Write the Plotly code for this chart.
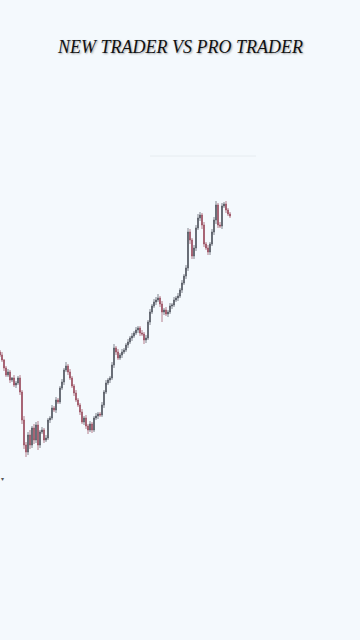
import plotly.graph_objects as go

title_text = "NEW TRADER VS PRO TRADER"

close = [285, 280, 272, 265, 268, 260, 262, 255, 257, 262,
         248, 220, 195, 188, 205, 195, 212, 200, 215, 195,
         208, 210, 200, 202, 220, 222, 232, 230, 240, 238,
         252, 258, 270, 274, 268, 262, 254, 247, 240, 235,
         228, 218, 222, 214, 210, 216, 210, 222, 224, 226,
         225, 235, 248, 257, 260, 262, 275, 292, 288, 282,
         285, 288, 290, 295, 298, 302, 304, 307, 310, 312,
         307, 306, 300, 302, 318, 328, 334, 338, 340, 342,
         336, 328, 330, 326, 328, 334, 335, 340, 342, 344,
         350, 357, 364, 372, 408, 400, 384, 392, 412, 422,
         425, 415, 396, 392, 388, 396, 408, 420, 435, 415,
         414, 434, 436, 430, 426, 424]

wick_up = [2, 3, 1, 2, 3, 2, 1, 3, 2, 2,
           3, 2, 4, 3, 3, 5, 2, 4, 3, 4,
           2, 3, 2, 3, 2, 2, 3, 2, 3, 2,
           2, 3, 2, 4, 2, 3, 2, 2, 3, 2,
           2, 3, 2, 3, 2, 3, 2, 2, 3, 2,
           2, 3, 2, 3, 2, 2, 3, 4, 2, 3,
           2, 3, 2, 2, 3, 2, 3, 2, 3, 2,
           2, 3, 2, 3, 2, 3, 2, 3, 3, 4,
           2, 3, 2, 3, 2, 3, 2, 3, 2, 3,
           2, 3, 2, 3, 4, 3, 2, 3, 3, 4,
           3, 2, 3, 2, 3, 2, 3, 3, 4, 2,
           3, 3, 2, 3, 2, 2]

wick_down = [2, 2, 3, 2, 2, 3, 2, 2, 3, 2,
             3, 4, 4, 5, 3, 4, 3, 4, 3, 5,
             3, 2, 3, 2, 2, 3, 2, 2, 3, 2,
             2, 2, 3, 2, 3, 2, 2, 3, 2, 2,
             3, 2, 3, 3, 4, 2, 3, 2, 2, 3,
             2, 2, 3, 2, 2, 3, 2, 3, 3, 2,
             2, 3, 2, 2, 3, 2, 3, 2, 2, 3,
             3, 2, 4, 3, 2, 3, 2, 2, 3, 2,
             3, 10, 3, 2, 3, 2, 3, 2, 2, 3,
             2, 3, 2, 3, 3, 4, 3, 3, 3, 2,
             3, 4, 3, 2, 3, 3, 2, 3, 4, 3,
             2, 3, 2, 3, 2, 2]

idx = list(range(len(close)))
opens = [close[0] + 3] + close[:-1]
high = [max(o, c) + w for o, c, w in zip(opens, close, wick_up)]
low = [min(o, c) - w for o, c, w in zip(opens, close, wick_down)]

fig = go.Figure()
fig.add_trace(go.Candlestick(
    x=idx, open=opens, high=high, low=low, close=close,
    increasing=dict(line=dict(color="#50555e", width=0.7), fillcolor="#50555e"),
    decreasing=dict(line=dict(color="#9a4a5c", width=0.7), fillcolor="#9a4a5c"),
    whiskerwidth=0, showlegend=False, hoverinfo="skip",
))

bg = "#f4f9fd"
fig.update_layout(
    width=360, height=640,
    margin=dict(l=0, r=0, t=0, b=0),
    paper_bgcolor=bg, plot_bgcolor=bg,
    xaxis=dict(range=[0, 180], visible=False, rangeslider=dict(visible=False), fixedrange=True),
    yaxis=dict(range=[0, 640], visible=False, fixedrange=True),
    showlegend=False,
    shapes=[dict(type="line", xref="paper", yref="paper",
                 x0=150/360, x1=256/360, y0=1-156/640, y1=1-156/640,
                 line=dict(color="#e6ecf0", width=1))],
    annotations=[
        dict(text=title_text, xref="paper", yref="paper", x=0.5, y=1-47/640,
             xanchor="center", yanchor="middle", showarrow=False,
             font=dict(family="Liberation Serif", size=18, color="#111111",
                       style="italic", shadow="1px 1px 2px rgba(0,0,0,0.35)")),
        dict(text="▾", xref="paper", yref="paper", x=2/360, y=1-478/640,
             xanchor="center", yanchor="middle", showarrow=False,
             font=dict(family="DejaVu Sans", size=6, color="#555555")),
    ],
)

fig.write_html("out.html")
